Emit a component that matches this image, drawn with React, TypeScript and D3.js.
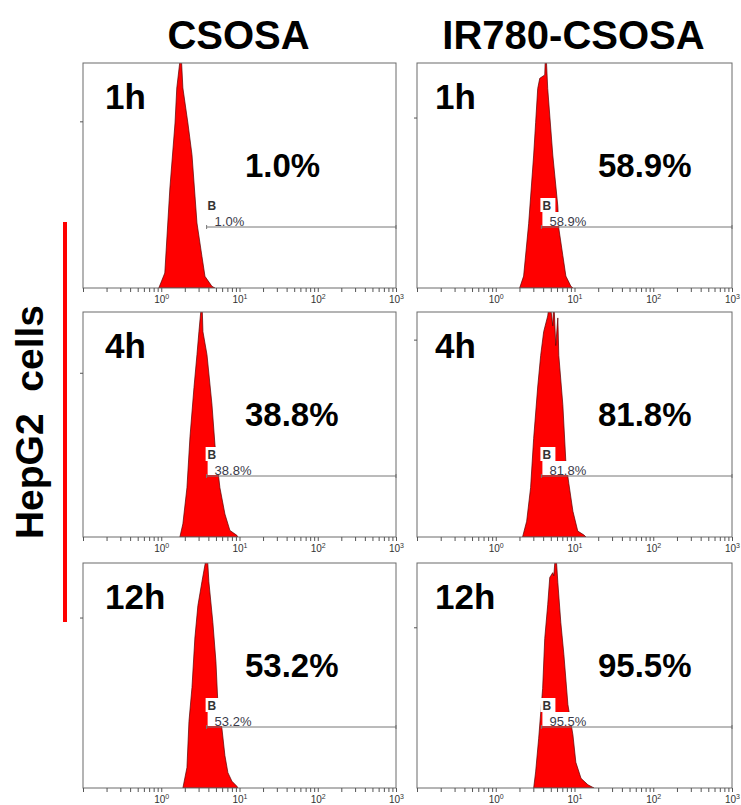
import React, { useEffect, useRef } from 'react';
import * as d3 from 'd3';

type Pt = [number, number]; // [fluorescence, count]

const groups = ['CSOSA', 'IR780-CSOSA'];
const times = ['1h', '4h', '12h'];
const percents = [
  ['1.0%', '58.9%'],
  ['38.8%', '81.8%'],
  ['53.2%', '95.5%'],
];
// count at the top of each panel (row by row)
const yMaxes = [
  [135, 132],
  [137, 114],
  [132, 140],
];
const gateStart = 3.8;
const gateEnd = 1000;
const xDomain: [number, number] = [0.1, 1000];
const decadeLabels = [1, 10, 100, 1000];

const csosa1h: Pt[] = [
  [0.93, 0], [1.11, 9], [1.29, 60], [1.5, 99], [1.58, 120], [1.79, 142], [1.89, 120],
  [2.19, 99], [2.47, 80], [2.86, 39], [3.31, 19], [3.62, 7], [4.44, 1], [4.85, 0],
];
const ir1h: Pt[] = [
  [2.01, 0], [2.26, 7], [2.62, 38], [3.03, 78], [3.21, 97], [3.41, 117], [3.62, 123],
  [4.19, 125], [4.31, 142], [4.57, 117], [5.3, 78], [6.14, 48], [6.32, 35], [7.11, 19],
  [7.77, 7], [9.0, 1], [9.55, 0],
];
const csosa4h: Pt[] = [
  [1.73, 0], [1.89, 8], [2.13, 30], [2.33, 61], [2.62, 91], [2.86, 111], [3.03, 125],
  [3.31, 145], [3.41, 125], [3.84, 111], [4.44, 81], [4.86, 56], [5.62, 30], [6.51, 14],
  [7.54, 4], [9.26, 1], [9.55, 0],
];
const ir4h: Pt[] = [
  [2.19, 0], [2.47, 8], [2.77, 25], [3.03, 50], [3.41, 76], [3.72, 92], [4.06, 104],
  [4.57, 112], [4.85, 120], [5.3, 107], [5.46, 120], [5.78, 97], [6.14, 111], [6.32, 92],
  [7.11, 67], [7.77, 38], [8.48, 27], [9.55, 13], [11.0, 3], [13.2, 1], [14.0, 0],
];
const csosa12h: Pt[] = [
  [1.89, 0], [2.13, 12], [2.26, 39], [2.47, 59], [2.69, 88], [2.94, 107], [3.31, 121],
  [3.62, 131], [3.84, 140], [4.06, 121], [4.57, 97], [5.0, 74], [5.3, 49], [5.96, 35],
  [6.51, 19], [7.11, 9], [8.0, 4], [9.26, 1], [9.55, 0],
];
const ir12h: Pt[] = [
  [3.03, 0], [3.21, 10], [3.51, 31], [3.94, 62], [4.19, 93], [4.57, 114], [4.85, 131],
  [5.3, 134], [5.46, 132], [5.78, 148], [6.14, 128], [6.7, 103], [7.33, 83], [8.24, 52],
  [9.55, 33], [10.4, 16], [12.1, 6], [14.8, 2], [17.7, 0],
];

const histograms = [
  [csosa1h, ir1h],
  [csosa4h, ir4h],
  [csosa12h, ir12h],
];

const FONT = "Arial, 'Liberation Sans', sans-serif";

const App: React.FC = () => {
  const ref = useRef<SVGSVGElement | null>(null);

  useEffect(() => {
    const svg = d3.select(ref.current);
    svg.selectAll('*').remove();

    // layout
    const colX = [83, 417];
    const colW = [313, 315];
    const rowY = [63, 312, 563];
    const panelH = 225;
    const pctX = [162, 181];
    const timeX = [22, 18];

    // column titles
    groups.forEach((g, i) => {
      svg
        .append('text')
        .attr('x', colX[i] + colW[i] / 2 - 1)
        .attr('y', 49)
        .attr('text-anchor', 'middle')
        .attr('font-family', FONT)
        .attr('font-weight', 'bold')
        .attr('font-size', 40)
        .text(g);
    });

    // row label + red bar
    svg
      .append('text')
      .attr('transform', 'translate(43,422) rotate(-90)')
      .attr('text-anchor', 'middle')
      .attr('font-family', FONT)
      .attr('font-weight', 'bold')
      .attr('font-size', 39)
      .attr('xml:space', 'preserve')
      .text('HepG2  cells');
    svg
      .append('line')
      .attr('x1', 65)
      .attr('x2', 65)
      .attr('y1', 222)
      .attr('y2', 622)
      .attr('stroke', '#ff0000')
      .attr('stroke-width', 4);

    histograms.forEach((row, r) => {
      row.forEach((data, c) => {
        const w = colW[c];
        const g = svg
          .append('g')
          .attr('transform', `translate(${colX[c]},${rowY[r]})`);

        const x = d3.scaleLog().domain(xDomain).range([0, w]);
        const y = d3.scaleLinear().domain([0, yMaxes[r][c]]).range([panelH, 0]);

        const clipId = `clip-${r}-${c}`;
        g.append('clipPath')
          .attr('id', clipId)
          .append('rect')
          .attr('width', w)
          .attr('height', panelH);

        const area = d3
          .area<Pt>()
          .x((d) => x(d[0]))
          .y0(panelH)
          .y1((d) => y(d[1]));

        g.append('path')
          .datum(data)
          .attr('clip-path', `url(#${clipId})`)
          .attr('d', area)
          .attr('fill', '#ff0000')
          .attr('stroke', '#5a0000')
          .attr('stroke-width', 0.7);

        // gate marker
        const gy = 164;
        const gx0 = x(gateStart);
        const gx1 = x(gateEnd);
        g.append('rect')
          .attr('x', gx0 - 1)
          .attr('y', gy - 29)
          .attr('width', 15)
          .attr('height', 14)
          .attr('fill', '#fff');
        g.append('rect')
          .attr('x', gx0 + 1)
          .attr('y', gy - 15)
          .attr('width', 42)
          .attr('height', 14)
          .attr('fill', '#fff');
        g.append('line')
          .attr('x1', gx0)
          .attr('x2', gx1)
          .attr('y1', gy)
          .attr('y2', gy)
          .attr('stroke', '#777')
          .attr('stroke-width', 1);
        [gx0, gx1].forEach((gx) => {
          g.append('line')
            .attr('x1', gx)
            .attr('x2', gx)
            .attr('y1', gy - 2)
            .attr('y2', gy + 2)
            .attr('stroke', '#777');
        });
        g.append('text')
          .attr('x', gx0 + 1)
          .attr('y', gy - 17)
          .attr('font-family', FONT)
          .attr('font-weight', 'bold')
          .attr('font-size', 12)
          .attr('fill', '#333')
          .text('B');
        g.append('text')
          .attr('x', gx0 + 8)
          .attr('y', gy - 1)
          .attr('font-family', FONT)
          .attr('font-size', 13)
          .attr('fill', '#3a3a4a')
          .text(percents[r][c]);

        // frame
        g.append('rect')
          .attr('width', w)
          .attr('height', panelH)
          .attr('fill', 'none')
          .attr('stroke', '#6a6a6a')
          .attr('stroke-width', 1);

        // x axis
        const ax = g
          .append('g')
          .attr('transform', `translate(0,${panelH})`)
          .call(
            d3
              .axisBottom(x)
              .tickSize(4)
              .tickSizeOuter(0)
              .tickFormat(() => '')
          );
        ax.select('.domain').remove();
        ax.selectAll('.tick line').attr('stroke', '#555');
        ax.selectAll<SVGGElement, number>('.tick')
          .filter((d) => decadeLabels.includes(Math.round(d * 1000) / 1000))
          .each(function (d) {
            const t = d3
              .select(this)
              .append('text')
              .attr('y', 15)
              .attr('text-anchor', 'middle')
              .attr('font-family', FONT)
              .attr('font-size', 10)
              .attr('fill', '#333');
            t.append('tspan').text('10');
            t.append('tspan')
              .attr('dy', -4)
              .attr('font-size', 7)
              .text(String(Math.round(Math.log10(d))));
          });

        // y axis: single tick
        const ay = g.append('g').call(d3.axisLeft(y).tickValues([100]).tickSize(3).tickFormat(() => ''));
        ay.select('.domain').remove();
        ay.selectAll('.tick line').attr('stroke', '#555');

        // labels
        g.append('text')
          .attr('x', timeX[c])
          .attr('y', 46)
          .attr('font-family', FONT)
          .attr('font-weight', 'bold')
          .attr('font-size', 35)
          .text(times[r]);
        g.append('text')
          .attr('x', pctX[c])
          .attr('y', 114)
          .attr('font-family', FONT)
          .attr('font-weight', 'bold')
          .attr('font-size', 33)
          .text(percents[r][c]);
      });
    });
  }, []);

  return (
    <svg
      ref={ref}
      width={741}
      height={805}
      style={{ position: 'absolute', left: 0, top: 0, background: '#fff' }}
    ></svg>
  );
};

export default App;
